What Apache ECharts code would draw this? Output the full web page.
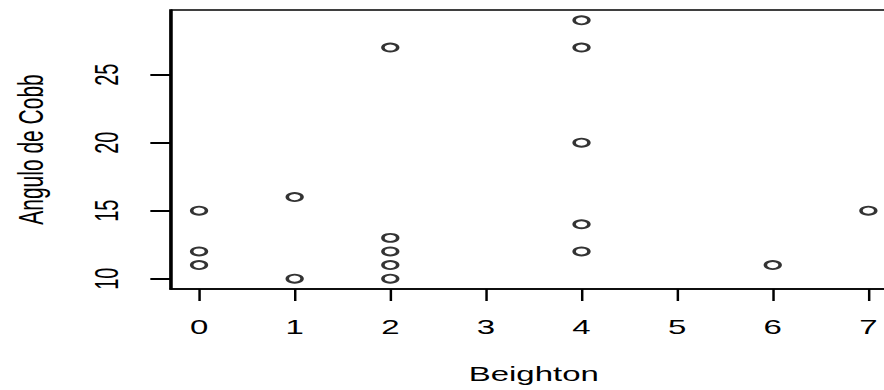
<!DOCTYPE html>
<html>
<head>
<meta charset="utf-8">
<script src="https://cdn.jsdelivr.net/npm/echarts@6/dist/echarts.min.js"></script>
<style>
  html, body { margin: 0; padding: 0; background: #fff; overflow: hidden; width: 884px; height: 390px; }
  #chart { width: 560px; height: 390px; transform: scaleX(1.6493); transform-origin: 0 0; }
</style>
</head>
<body>
<div id="chart"></div>
<script>
// Data
const beighton = [0, 0, 0, 1, 1, 2, 2, 2, 2, 2, 4, 4, 4, 4, 4, 6, 7];
const cobb     = [15, 12, 11, 16, 10, 27, 13, 12, 11, 10, 29, 27, 20, 14, 12, 11, 15];
const xTicks = [0, 1, 2, 3, 4, 5, 6, 7];
const yTicks = [10, 15, 20, 25];
const xTitle = 'Beighton';
const yTitle = 'Angulo de Cobb';

const points = beighton.map((b, i) => [b, cobb[i]]);
const font = 'Liberation Sans, Arial, sans-serif';

const chart = echarts.init(document.getElementById('chart'), null, { renderer: 'svg' });
chart.setOption({
  animation: false,
  backgroundColor: '#fff',
  grid: {
    left: 103.3, top: 10, width: 440.6, height: 279, outerBoundsMode: 'none',
    show: true, borderColor: '#000', borderWidth: 1.5, backgroundColor: 'transparent'
  },
  xAxis: {
    type: 'value', min: -0.3, max: 7.3,
    name: xTitle, nameLocation: 'middle', nameGap: 75,
    nameTextStyle: { fontFamily: font, fontSize: 20, color: '#000' },
    splitLine: { show: false },
    axisLine: { show: true, onZero: false, lineStyle: { color: '#000', width: 1.5 } },
    axisTick: { show: true, inside: false, customValues: xTicks, length: 12, lineStyle: { color: '#000', width: 1.5 } },
    axisLabel: { customValues: xTicks, margin: 28, fontFamily: font, fontSize: 20, color: '#000' }
  },
  yAxis: [{
    type: 'value', min: 9.24, max: 29.76, position: 'left',
    name: yTitle, nameLocation: 'middle', nameGap: 74, nameRotate: 90,
    nameTextStyle: { fontFamily: font, fontSize: 21, color: '#000' },
    splitLine: { show: false },
    axisLine: { show: true, onZero: false, lineStyle: { color: '#000', width: 1.5 } },
    axisTick: { show: true, inside: false, customValues: yTicks, length: 12, lineStyle: { color: '#000', width: 2 } },
    axisLabel: { customValues: yTicks, rotate: 90, margin: 29, fontFamily: font, fontSize: 20, color: '#000' }
  }, {
    type: 'value', min: 9.24, max: 29.76, position: 'left', offset: 0,
    splitLine: { show: false },
    axisLine: { show: false, onZero: false },
    axisTick: { show: true, inside: false, customValues: yTicks, length: 12, lineStyle: { color: '#000', width: 2 } },
    axisLabel: { show: false }
  }],
  series: [{
    type: 'scatter',
    data: points,
    yAxisIndex: 0,
    symbol: 'emptyCircle',
    symbolSize: [9, 8],
    itemStyle: { color: '#000', borderWidth: 1.1 }
  }]
});
</script>
</body>
</html>
